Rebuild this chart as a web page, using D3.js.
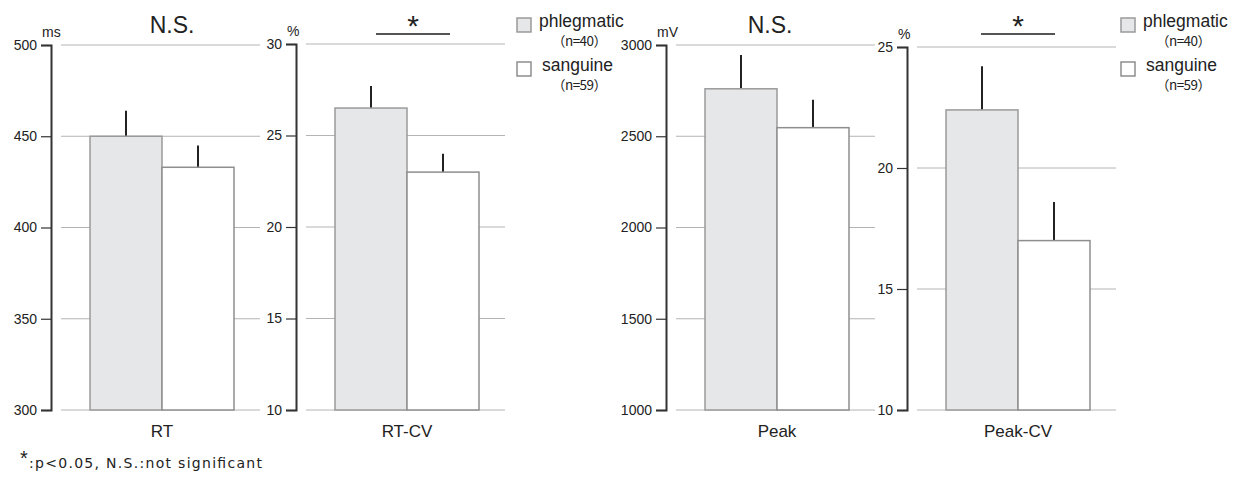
<!DOCTYPE html>
<html>
<head>
<meta charset="utf-8">
<script src="https://cdn.jsdelivr.net/npm/d3@7"></script>
<style>
  body { margin: 0; background: #fff; }
  text { font-family: "Liberation Sans", Arial, sans-serif; fill: #222; }
</style>
</head>
<body>
<svg id="chart" width="1242" height="483"></svg>
<script>
// data
const metrics = ['RT', 'RT-CV', 'Peak', 'Peak-CV'];
const units = ['ms', '%', 'mV', '%'];
const groups = ['phlegmatic', 'sanguine'];
const groupN = ['（n=40）', '（n=59）'];
const phlegmaticMean = [450, 26.5, 2760, 22.4];
const phlegmaticErr = [14, 1.2, 185, 1.8];
const sanguineMean = [433, 23.0, 2547, 17.0];
const sanguineErr = [12, 1.0, 153, 1.6];
const significance = ['N.S.', '*', 'N.S.', '*'];
const yDomains = [[300, 500], [10, 30], [1000, 3000], [10, 25]];
const yTicks = [
  [300, 350, 400, 450, 500],
  [10, 15, 20, 25, 30],
  [1000, 1500, 2000, 2500, 3000],
  [10, 15, 20, 25]
];

// layout
const axisX = [51, 296, 666, 907];
const topY = [45, 44, 45, 47];
const titleDx = [10, 6, -7, 0];
const bottomY = 410;
const legendX = [517, 1121];
const fills = { phlegmatic: '#e6e7e8', sanguine: '#ffffff' };
const strokes = { phlegmatic: '#9a9a9a', sanguine: '#8e8e8e' };

const svg = d3.select('#chart');

metrics.forEach((m, i) => {
  const ax = axisX[i];
  const y = d3.scaleLinear().domain(yDomains[i]).range([bottomY, topY[i]]);
  const x = d3.scaleBand().domain(groups).range([ax + 39, ax + 183]).padding(0);
  const g = svg.append('g');

  // gridlines
  g.selectAll('line.grid')
    .data(yTicks[i])
    .enter()
    .append('line')
    .attr('class', 'grid')
    .attr('x1', ax + 10)
    .attr('x2', ax + 209)
    .attr('y1', d => y(d))
    .attr('y2', d => y(d))
    .attr('stroke', '#b4b4b4')
    .attr('stroke-width', 1);

  // axis
  const axis = g.append('g')
    .attr('transform', `translate(${ax},0)`)
    .call(d3.axisLeft(y).tickValues(yTicks[i]).tickSize(10).tickSizeOuter(10).tickPadding(4).tickFormat(d3.format('d')));
  axis.select('.domain').attr('stroke', '#333').attr('stroke-width', 2);
  axis.selectAll('.tick line').attr('stroke', '#333').attr('stroke-width', 1.2);
  axis.selectAll('.tick text')
    .style('font-family', '"Liberation Sans", Arial, sans-serif')
    .style('font-size', '14px')
    .attr('fill', '#333');

  // unit
  g.append('text')
    .attr('x', ax - 9)
    .attr('y', topY[i] - 8)
    .style('font-size', '14px')
    .text(units[i]);

  // bars
  const rows = [
    { key: 'phlegmatic', mean: phlegmaticMean[i], err: phlegmaticErr[i] },
    { key: 'sanguine', mean: sanguineMean[i], err: sanguineErr[i] }
  ];
  g.selectAll('line.err')
    .data(rows)
    .enter()
    .append('line')
    .attr('class', 'err')
    .attr('x1', d => x(d.key) + x.bandwidth() / 2)
    .attr('x2', d => x(d.key) + x.bandwidth() / 2)
    .attr('y1', d => y(d.mean))
    .attr('y2', d => y(d.mean + d.err))
    .attr('stroke', '#222')
    .attr('stroke-width', 2);
  g.selectAll('rect')
    .data(rows)
    .enter()
    .append('rect')
    .attr('x', d => x(d.key))
    .attr('y', d => y(d.mean))
    .attr('width', x.bandwidth())
    .attr('height', d => bottomY - y(d.mean))
    .attr('fill', d => fills[d.key])
    .attr('stroke', d => strokes[d.key])
    .attr('stroke-width', 1.5);

  // category label
  const cx = ax + 111;
  g.append('text')
    .attr('x', cx)
    .attr('y', 437)
    .attr('text-anchor', 'middle')
    .style('font-size', '17px')
    .text(m);

  // significance
  const tx = cx + titleDx[i];
  if (significance[i] === '*') {
    g.append('line')
      .attr('x1', tx - 37)
      .attr('x2', tx + 37)
      .attr('y1', 34)
      .attr('y2', 34)
      .attr('stroke', '#555')
      .attr('stroke-width', 2);
    g.append('text')
      .attr('x', tx)
      .attr('y', 36)
      .attr('text-anchor', 'middle')
      .style('font-size', '30px')
      .text('*');
  } else {
    g.append('text')
      .attr('x', tx)
      .attr('y', 33)
      .attr('text-anchor', 'middle')
      .style('font-size', '23px')
      .text(significance[i]);
  }
});

// legends
legendX.forEach(lx => {
  const lg = svg.append('g');
  groups.forEach((grp, j) => {
    const sy = 18 + j * 44;
    lg.append('rect')
      .attr('x', lx)
      .attr('y', sy)
      .attr('width', 14)
      .attr('height', 14)
      .attr('fill', fills[grp])
      .attr('stroke', strokes[grp])
      .attr('stroke-width', 1.5);
    lg.append('text')
      .attr('x', lx + 22 + j * 3)
      .attr('y', sy + 9)
      .style('font-size', '17.5px')
      .text(grp);
    lg.append('text')
      .attr('x', lx + 35)
      .attr('y', sy + 28)
      .attr('textLength', 55)
      .attr('lengthAdjust', 'spacing')
      .style('font-family', '"Noto Sans CJK JP", "Liberation Sans", sans-serif')
      .style('font-size', '13.5px')
      .text(groupN[j]);
  });
});

// footnote
svg.append('text')
  .attr('x', 20)
  .attr('y', 465)
  .style('font-size', '20px')
  .text('*');
svg.append('text')
  .attr('x', 29)
  .attr('y', 468)
  .attr('textLength', 233)
  .attr('lengthAdjust', 'spacing')
  .style('font-family', '"DejaVu Sans", sans-serif')
  .style('font-size', '14px')
  .text(':p<0.05, N.S.:not significant');
</script>
</body>
</html>
